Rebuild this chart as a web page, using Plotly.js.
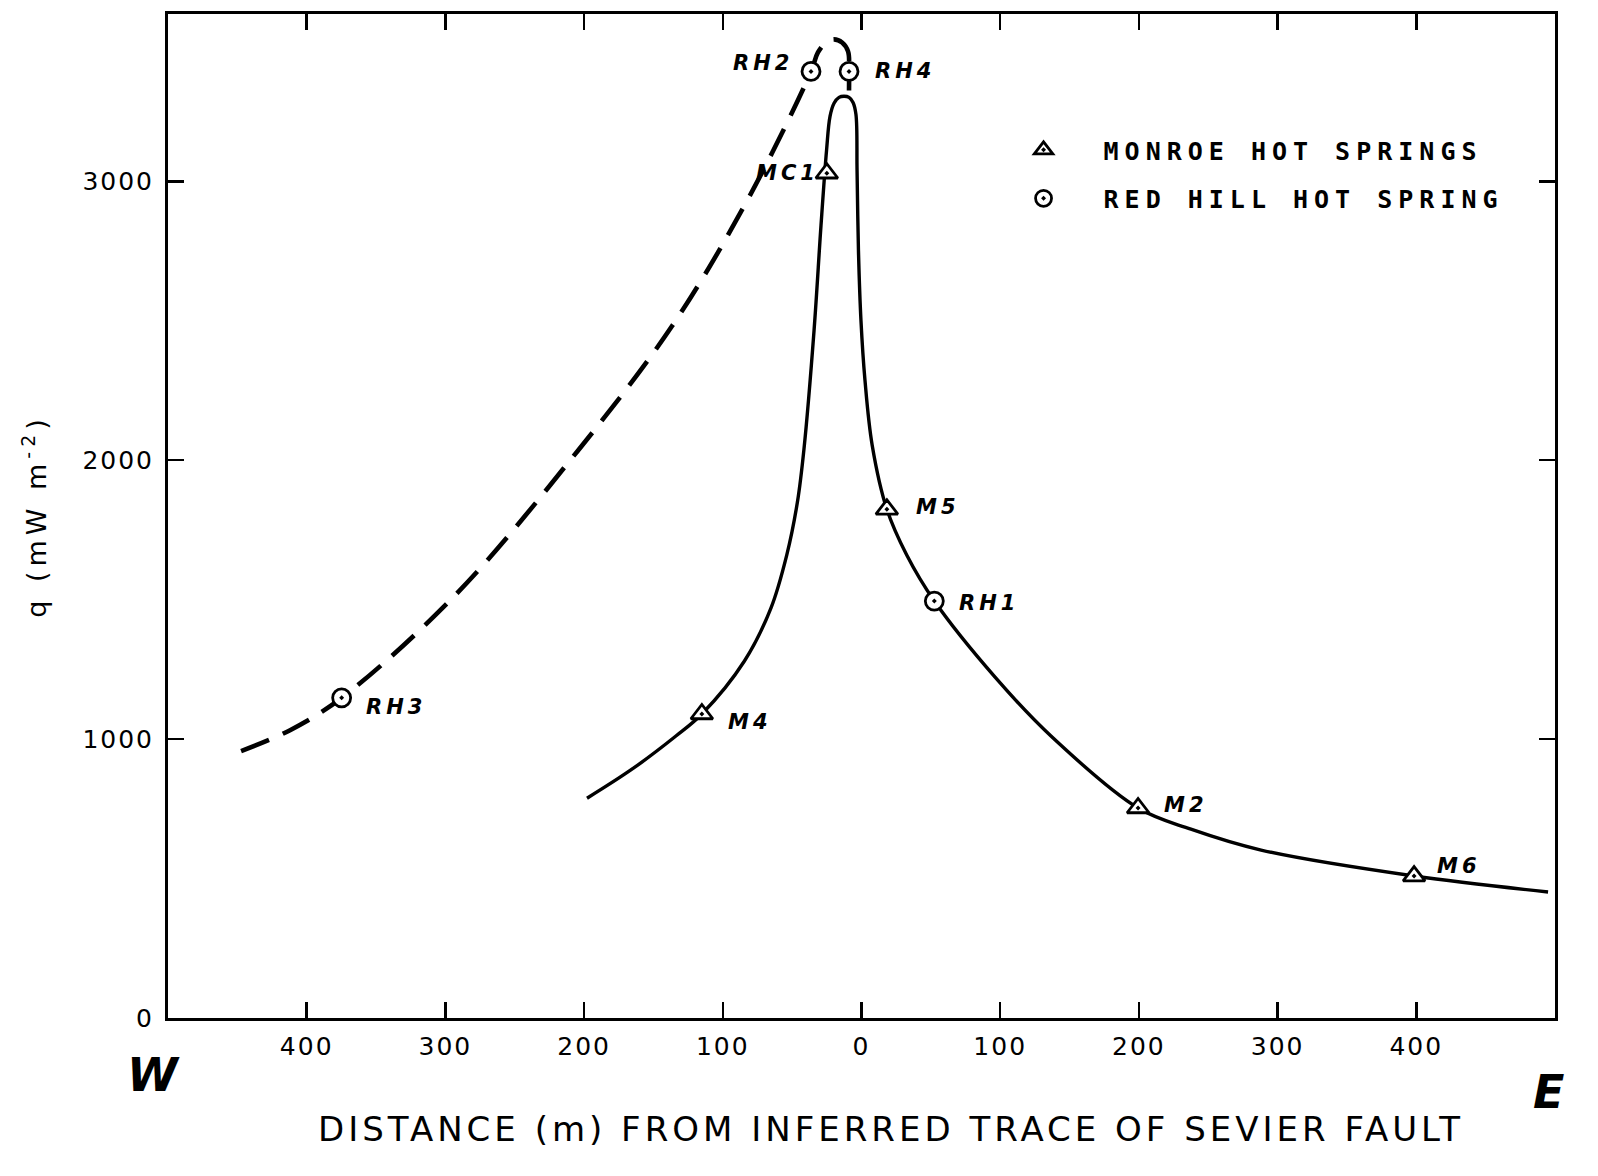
<!DOCTYPE html>
<html><head><meta charset="utf-8">
<script src="https://cdn.plot.ly/plotly-3.0.1.min.js"></script>
<style>
html,body{margin:0;padding:0;background:#fff;}
#chart{width:1598px;height:1176px;}
.ytitle{letter-spacing:5px;}
.legendtext{letter-spacing:6px;}
.annotation-text{letter-spacing:4px;}
.xtick text,.ytick text{letter-spacing:2px;}
</style></head><body><div id="chart"></div>
<script>
// ---- data ----
// solid curve drawn through the Monroe Hot Springs stations (distance m, heat flow mW m-2)
const monroeCurveX = [-197.9,-165.5,-133.8,-115.1,-84.4,-65.3,-53.9,-46.2,-41.5,-34.2,-29.2,-25.2,-22.7,-19.8,-16.2,-12.6,-9.0,-6.1,-4.0,-3.2,-2.2,-0.4,2.5,7.7,18.3,32.6,52.5,96.3,136.6,199.4,237.5,288.1,398.4,495.0];
const monroeCurveY = [788,892,1011,1090,1280,1470,1660,1850,2039,2466,2842,3111,3233,3280,3301,3305,3301,3283,3240,3039,2753,2502,2287,2054,1824,1660,1495,1222,1011,753,677,602,509,452];
// dashed curve drawn through the Red Hill Hot Spring stations
const redHillCurveX = [-447.3,-412,-374.8,-293,-210,-136.6,-80.4,-36.4,-31.4,-25.6,-19.8,-14,-9.7,-9,-9];
const redHillCurveY = [957,1032,1148,1516,2000,2481,2950,3394,3462,3498,3509,3498,3466,3394,3326];
// measured stations
const monroeNames = ['M4','MC1','M5','M2','M6'];
const monroeX = [-115.1,-25,18.3,199.4,398.4];
const monroeY = [1090,3029,1824,753,509];
const redHillNames = ['RH3','RH2','RH4','RH1'];
const redHillX = [-374.8,-36.4,-9,52.5];
const redHillY = [1148,3394,3394,1495];
// axis ticks
const xTickVals = [-400,-300,-200,-100,0,100,200,300,400];
const xTickText = ['400','300','200','100','0','100','200','300','400'];
const yTickVals = [0,1000,2000,3000];
const yTickText = ['0','1000','2000','3000'];

// ---- label placement (style, not data) ----
const labelPlace = {
  M4:['left',24,-8], MC1:['right',-6,0], M5:['left',27,2], M2:['left',24,3], M6:['left',21,10],
  RH3:['left',22,-9], RH2:['right',-16,8], RH4:['left',24,0], RH1:['left',23,-2]
};

const black = '#000';
const traces = [
  {x: monroeCurveX, y: monroeCurveY, mode:'lines', line:{color:black, width:3.4, shape:'spline', smoothing:1}, showlegend:false, hoverinfo:'skip'},
  {x: redHillCurveX, y: redHillCurveY, mode:'lines', line:{color:black, width:4.6, shape:'spline', smoothing:1, dash:'30px,15px'}, showlegend:false, hoverinfo:'skip'},
  {x: monroeX, y: monroeY, mode:'markers', name:'MONROE HOT SPRINGS', legendgroup:'a',
   marker:{symbol:'triangle-up-dot', size:19, color:'#fff', line:{color:black, width:2.8}}},
  {x: redHillX, y: redHillY, mode:'markers', name:'RED HILL HOT SPRING', legendgroup:'b',
   marker:{symbol:'circle-dot', size:18, color:'#fff', line:{color:black, width:2.8}}}
];

const labelFont = {family:'DejaVu Sans', size:21, color:black, weight:'bold', style:'italic'};
const annotations = [];
function addLabels(names, xs, ys){
  names.forEach((n,i)=>{
    const p = labelPlace[n];
    annotations.push({x:xs[i], y:ys[i], xref:'x', yref:'y', text:n, showarrow:false,
      xanchor:p[0], yanchor:'middle', xshift:p[1], yshift:p[2], font:labelFont});
  });
}
addLabels(monroeNames, monroeX, monroeY);
addLabels(redHillNames, redHillX, redHillY);
const sideFont = {family:'DejaVu Sans', size:46, color:black, weight:'bold', style:'italic'};
annotations.push({xref:'paper', yref:'paper', x:-0.0094, y:-0.057, text:'W', showarrow:false,
  xanchor:'center', yanchor:'middle', font:sideFont});
annotations.push({xref:'paper', yref:'paper', x:0.9964, y:-0.074, text:'E', showarrow:false,
  xanchor:'center', yanchor:'middle', font:sideFont});
// x-axis title (placed as in the original, slightly right of the axis centre)
annotations.push({xref:'paper', yref:'paper', x:0.521, y:-0.111, text:'DISTANCE (m) FROM INFERRED TRACE OF SEVIER FAULT',
  showarrow:false, xanchor:'center', yanchor:'middle', font:{family:'DejaVu Sans', size:34, color:black}});

const tickFont = {family:'DejaVu Sans', size:25, color:black};
const legendFont = {family:'DejaVu Sans Mono', size:25, color:black, weight:'bold'};
const layout = {
  width:1598, height:1176,
  margin:{l:168, r:43, t:14, b:158},
  paper_bgcolor:'#fff', plot_bgcolor:'#fff',
  showlegend:true,
  xaxis:{range:[-500,500], tickvals:xTickVals, ticktext:xTickText, ticks:'inside', ticklen:16, tickwidth:2.5, tickcolor:black,
    showline:true, linecolor:black, linewidth:3, mirror:'ticks', showgrid:false, zeroline:false,
    tickfont:tickFont, ticklabelstandoff:4},
  yaxis:{range:[0,3600], tickvals:yTickVals, ticktext:yTickText, ticks:'inside', ticklen:16, tickwidth:2.5, tickcolor:black,
    showline:true, linecolor:black, linewidth:3, mirror:'ticks', showgrid:false, zeroline:false,
    tickfont:tickFont, ticklabelstandoff:6,
    title:{text:'q (mW m<sup>-2</sup>)', font:{family:'DejaVu Sans', size:27, color:black}, standoff:28}},
  legend:{x:0.588, y:0.8406, xanchor:'left', yanchor:'middle', bgcolor:'rgba(0,0,0,0)', borderwidth:0,
    font:legendFont, itemwidth:110, traceorder:'grouped', tracegroupgap:13},
  annotations: annotations
};
Plotly.newPlot('chart', traces, layout, {displayModeBar:false, staticPlot:true});
</script></body></html>
